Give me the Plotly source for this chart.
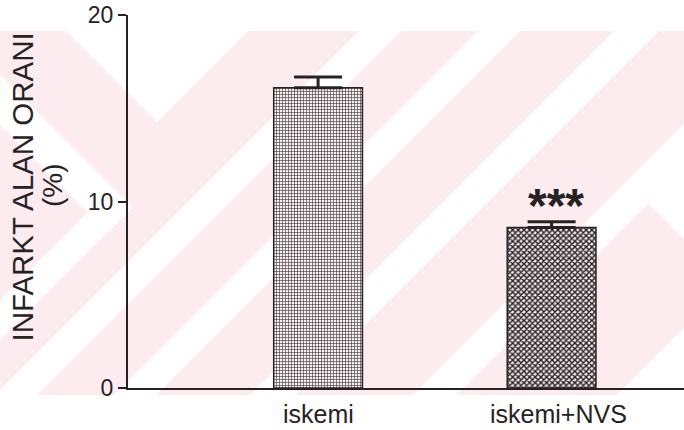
import plotly.graph_objects as go

# ---- data -------------------------------------------------------------
groups = ["iskemi", "iskemi+NVS"]
infarct_pct = [16.1, 8.6]
sem = [0.57, 0.31]
significance = ["", "***"]
y_ticks = [0, 10, 20]

# ---- canvas geometry ----------------------------------------------------
FIG_W, FIG_H = 684, 430
M_L, M_R, M_T, M_B = 128, 0, 15, 42
PW = FIG_W - M_L - M_R
PH = FIG_H - M_T - M_B
INK = "#262224"
FONT = "Liberation Sans, Arial, sans-serif"


def to_paper(x, y):
    return (x - M_L) / PW, (FIG_H - M_B - y) / PH


def clip_rect(poly, x0, y0, x1, y1):
    """Sutherland-Hodgman clip of a polygon against an axis-aligned box."""
    def clip(pts, inside, cross):
        out = []
        for i in range(len(pts)):
            cur, prev = pts[i], pts[i - 1]
            if inside(cur):
                if not inside(prev):
                    out.append(cross(prev, cur))
                out.append(cur)
            elif inside(prev):
                out.append(cross(prev, cur))
        return out

    def cx(xv):
        return lambda a, b: (xv, a[1] + (b[1] - a[1]) * (xv - a[0]) / (b[0] - a[0]))

    def cy(yv):
        return lambda a, b: (a[0] + (b[0] - a[0]) * (yv - a[1]) / (b[1] - a[1]), yv)

    pts = poly
    pts = clip(pts, lambda p: p[0] >= x0, cx(x0))
    pts = clip(pts, lambda p: p[0] <= x1, cx(x1))
    pts = clip(pts, lambda p: p[1] >= y0, cy(y0))
    pts = clip(pts, lambda p: p[1] <= y1, cy(y1))
    return pts


def svg_path(pts):
    coords = [to_paper(x, y) for x, y in pts]
    return "M " + " L ".join(f"{a:.4f},{b:.4f}" for a, b in coords) + " Z"


# ---- faint diagonal backdrop -------------------------------------------
BAND_TOP, BAND_BOTTOM = 31, 395
shapes = [dict(type="path", xref="paper", yref="paper", layer="below",
               path=svg_path([(0, BAND_TOP), (FIG_W, BAND_TOP),
                              (FIG_W, BAND_BOTTOM), (0, BAND_BOTTOM)]),
               fillcolor="#fdecef", line=dict(width=0))]

gaps = []
for c0, c1 in [(390, 432), (509, 551), (645, 690), (808, 852), (1012, 2400)]:
    band = [(c0 + 1000, -1000), (c1 + 1000, -1000), (c1 - 2000, 2000), (c0 - 2000, 2000)]
    gaps.append(clip_rect(band, 0, BAND_TOP, FIG_W, BAND_BOTTOM))
gaps.append([(66, 31), (248, 31), (157, 122)])
gaps.append([(0, 300), (112.5, 187.5), (132.5, 207.5), (0, 340)])
gaps.append([(0, 75), (132.5, 207.5), (107.5, 232.5), (0, 125)])
gaps.append([(648.5, 203.5), (684, 168), (684, 239)])

for g in gaps:
    if len(g) >= 3:
        shapes.append(dict(type="path", xref="paper", yref="paper", layer="below",
                           path=svg_path(g), fillcolor="white", line=dict(width=0)))

# ---- bars ---------------------------------------------------------------
patterns = [
    dict(shape="+", size=3, solidity=0.35, fgcolor="#3a2e34", bgcolor="#f6eff2", fillmode="replace"),
    dict(shape="x", size=4, solidity=0.6, fgcolor="#2a2024", bgcolor="#f2edf0", fillmode="replace"),
]

fig = go.Figure()
for i, (g, v, e) in enumerate(zip(groups, infarct_pct, sem)):
    fig.add_trace(go.Bar(
        x=[i], y=[v], width=0.38,
        marker=dict(color="#f6eff2", pattern=patterns[i], line=dict(color=INK, width=1.5)),
        error_y=dict(type="data", array=[e], arrayminus=[0], symmetric=False,
                     color=INK, thickness=3, width=24),
        showlegend=False, hoverinfo="skip",
    ))

annotations = []
for i, (v, e, s) in enumerate(zip(infarct_pct, sem, significance)):
    if s:
        annotations.append(dict(x=i, y=v + e, xref="x", yref="y", text=f"<b>{s}</b>", showarrow=False,
                                xanchor="center", yanchor="middle", xshift=4, yshift=16,
                                font=dict(family=FONT, size=48, color=INK)))

# category labels
label_shift = [0, 7]
for i, g in enumerate(groups):
    annotations.append(dict(x=i, y=-0.0705, xref="x", yref="paper", text=g, showarrow=False,
                            xanchor="center", yanchor="middle", xshift=label_shift[i],
                            font=dict(family=FONT, size=25, color=INK)))

# y-axis title (two lines)
tx, ty = to_paper(22, 187.5)
annotations.append(dict(x=tx, y=ty, xref="paper", yref="paper", text="INFARKT ALAN ORANI",
                        textangle=-90, showarrow=False, xanchor="center", yanchor="middle",
                        font=dict(family=FONT, size=29.5, color=INK)))
tx, ty = to_paper(52, 185)
annotations.append(dict(x=tx, y=ty, xref="paper", yref="paper", text="(%)",
                        textangle=-90, showarrow=False, xanchor="center", yanchor="middle",
                        font=dict(family=FONT, size=28, color=INK)))

fig.update_layout(
    width=FIG_W, height=FIG_H,
    margin=dict(l=M_L, r=M_R, t=M_T, b=M_B, pad=0),
    paper_bgcolor="white", plot_bgcolor="rgba(0,0,0,0)",
    shapes=shapes, annotations=annotations,
    font=dict(family=FONT, color=INK),
    xaxis=dict(range=[-0.814, 1.567], showline=True, linecolor=INK, linewidth=2,
               showgrid=False, zeroline=False, showticklabels=False, ticks=""),
    yaxis=dict(range=[0, 20], tickvals=y_ticks, ticktext=[str(t) for t in y_ticks],
               showline=True, linecolor=INK, linewidth=2, ticks="outside", ticklen=8,
               tickwidth=2, tickcolor=INK, showgrid=False, zeroline=False,
               tickfont=dict(family=FONT, size=23, color=INK)),
)

fig.write_html("out.html")
